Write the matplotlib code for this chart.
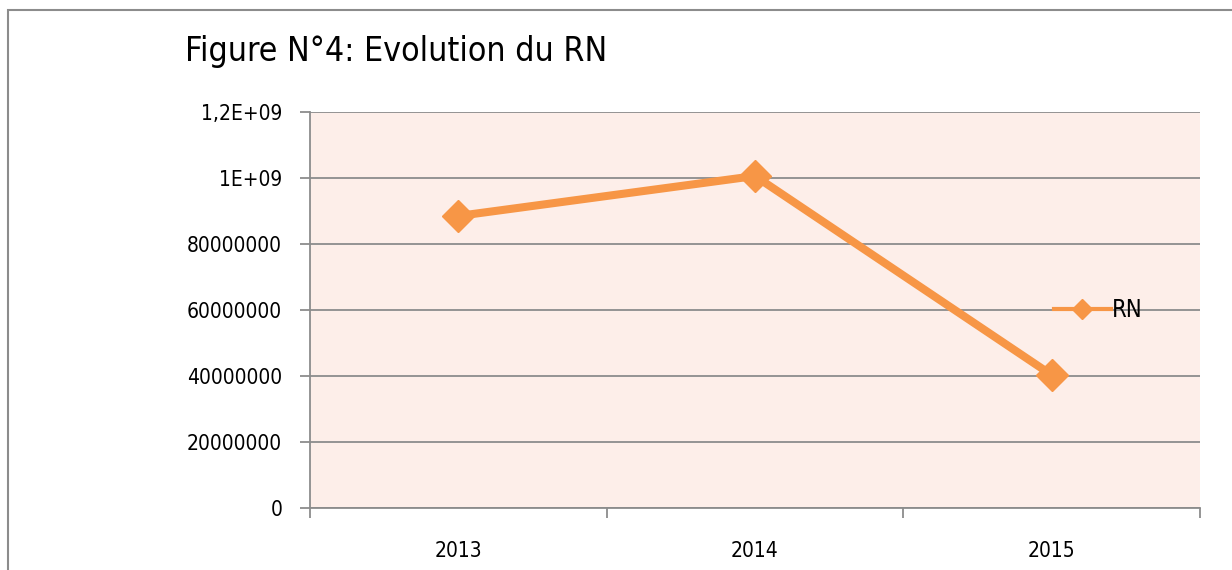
import matplotlib.pyplot as plt
from matplotlib.patches import Rectangle
from matplotlib.lines import Line2D

years = ["2013", "2014", "2015"]
rn_values = [885000000, 1006000000, 403000000]
y_ticks = [0, 200000000, 400000000, 600000000, 800000000, 1000000000, 1200000000]
y_labels = ["0", "20000000", "40000000", "60000000", "80000000", "1E+09", "1,2E+09"]

plt.rcParams['font.family'] = ['DejaVu Sans']
plt.rcParams['font.stretch'] = 'condensed'

fig = plt.figure(figsize=(12.32, 5.70), dpi=100)
ax = fig.add_axes([310 / 1232, 1 - 508 / 570, 890 / 1232, 396 / 570])

# outer chart border like the Excel frame
fig.patches.append(Rectangle((8 / 1232, -0.05), 1.2, 1 - 10 / 570 + 0.05,
                             transform=fig.transFigure, fill=False,
                             edgecolor='#8c8c8c', linewidth=1.5))

ax.set_facecolor('#FDEEE9')
x = list(range(len(years)))
ax.plot(x, rn_values, color='#F79646', linewidth=5.8, marker='D', markersize=16,
        solid_capstyle='round')

ax.set_xlim(-0.5, 2.5)
ax.set_ylim(0, 1200000000)
ax.set_yticks(y_ticks)
ax.set_yticklabels(y_labels, fontsize=15)
ax.set_xticks(x)
ax.set_xticklabels(years, fontsize=15)
ax.set_xticks([-0.5, 0.5, 1.5, 2.5], minor=True)
ax.tick_params(axis='x', which='major', length=0, pad=24)
ax.tick_params(axis='x', which='minor', length=7, color='#8c8c8c', width=1.3)
ax.tick_params(axis='y', length=7, color='#8c8c8c', width=1.3, pad=13)

ax.grid(axis='y', color='#8c8c8c', linewidth=1.3)
ax.set_axisbelow(True)
for s in ['top', 'right']:
    ax.spines[s].set_visible(False)
for s in ['left', 'bottom']:
    ax.spines[s].set_color('#8c8c8c')
    ax.spines[s].set_linewidth(1.3)

handle = Line2D([], [], color='#F79646', linewidth=3, marker='D', markersize=10)
ax.legend([handle], ['RN'], loc='center left', bbox_to_anchor=(744 / 890, 0.5),
          frameon=False, fontsize=17, handlelength=2.4, handletextpad=0.05,
          borderaxespad=0, borderpad=0)

fig.text(185 / 1232, 1 - 51 / 570, "Figure N°4: Evolution du RN", fontsize=24.3,
         va='center', ha='left')

fig.savefig("out.png", dpi=100)
